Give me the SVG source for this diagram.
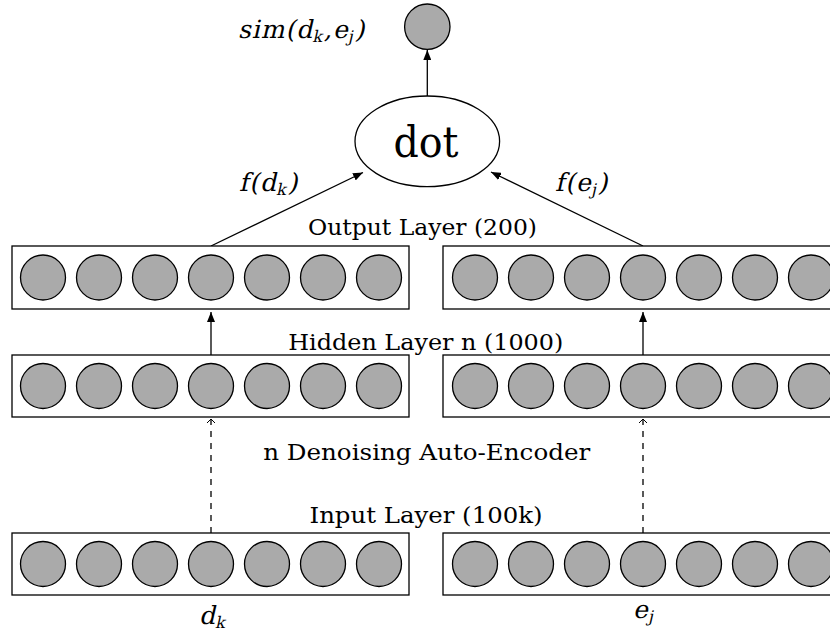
<svg xmlns="http://www.w3.org/2000/svg" width="830" height="633" viewBox="0 0 830 633">
  <style>
    .box { fill: #ffffff; stroke: #000000; stroke-width: 1.3; }
    .unit { fill: #aaaaaa; stroke: #000000; stroke-width: 1.3; }
    .lbl { font-family: "DejaVu Serif", "Liberation Serif", "Noto Serif", serif; font-size: 22px; fill: #000000; }
    .math { font-family: "DejaVu Serif", "Liberation Serif", "Noto Serif", serif; font-size: 25px; letter-spacing: 1px; fill: #000000; }
    .sub { font-size: 16px; }
    .edge { stroke: #000000; stroke-width: 1.3; fill: none; }
    .dash { stroke-dasharray: 6 6; }
  </style>
  <defs>
    <marker id="arr" viewBox="0 0 10 8" refX="10" refY="4" markerWidth="10" markerHeight="8" markerUnits="userSpaceOnUse" orient="auto">
      <path d="M0,0 L10,4 L0,8 Z" fill="#000000"/>
    </marker>
    <marker id="caret" viewBox="-6 -6 8 12" refX="0" refY="0" markerWidth="8" markerHeight="12" markerUnits="userSpaceOnUse" orient="auto">
      <path d="M-4,-4 L0,0 L-4,4" fill="none" stroke="#000000" stroke-width="1"/>
    </marker>
    <g id="row">
      <circle class="unit" cx="0" cy="0" r="22.5"/>
      <circle class="unit" cx="56" cy="0" r="22.5"/>
      <circle class="unit" cx="112" cy="0" r="22.5"/>
      <circle class="unit" cx="168" cy="0" r="22.5"/>
      <circle class="unit" cx="224" cy="0" r="22.5"/>
      <circle class="unit" cx="280" cy="0" r="22.5"/>
      <circle class="unit" cx="336" cy="0" r="22.5"/>
    </g>
  </defs>

  <g id="connectors">
    <line class="edge" x1="427.3" y1="96" x2="427.3" y2="50" marker-end="url(#arr)"/>
    <line class="edge" x1="211" y1="246" x2="363" y2="172.5" marker-end="url(#arr)"/>
    <line class="edge" x1="643" y1="246" x2="491" y2="172" marker-end="url(#arr)"/>
    <line class="edge" x1="211" y1="355" x2="211" y2="312" marker-end="url(#arr)"/>
    <line class="edge" x1="643" y1="355" x2="643" y2="312" marker-end="url(#arr)"/>
    <line class="edge dash" x1="211" y1="533" x2="211" y2="419" marker-end="url(#caret)"/>
    <line class="edge dash" x1="643" y1="533" x2="643" y2="419" marker-end="url(#caret)"/>
  </g>

  <g id="sim-node">
    <circle class="unit" cx="427.3" cy="26.7" r="22.7"/>
    <text class="math" transform="translate(238,38) skewX(-13)" x="0" y="0">sim<tspan transform="none">(</tspan>d<tspan class="sub" dy="4">k</tspan><tspan dy="-4">,</tspan>e<tspan class="sub" dy="4">j</tspan><tspan dy="-4">)</tspan></text>
  </g>

  <g id="dot-node">
    <ellipse cx="427.3" cy="141.3" rx="72.3" ry="45.3" fill="#ffffff" stroke="#000000" stroke-width="1.3"/>
    <text x="426" y="157" text-anchor="middle" font-family="'DejaVu Serif', 'Liberation Serif', serif" font-size="42" textLength="65" lengthAdjust="spacingAndGlyphs">dot</text>
  </g>

  <g id="edge-labels">
    <text class="math" transform="translate(239,191) skewX(-13)" x="0" y="0">f(d<tspan class="sub" dy="4">k</tspan><tspan dy="-4">)</tspan></text>
    <text class="math" transform="translate(555,191) skewX(-13)" x="0" y="0">f(e<tspan class="sub" dy="4">j</tspan><tspan dy="-4">)</tspan></text>
  </g>

  <g id="output-left">
    <rect class="box" x="12" y="246" width="397" height="63"/>
    <use href="#row" x="43" y="277.5"/>
  </g>
  <g id="output-right">
    <rect class="box" x="443" y="246" width="400" height="63"/>
    <use href="#row" x="475" y="277.5"/>
  </g>
  <text id="output-label" class="lbl" x="422.5" y="235" text-anchor="middle" textLength="229" lengthAdjust="spacingAndGlyphs">Output Layer (200)</text>

  <g id="hidden-left">
    <rect class="box" x="12" y="355" width="397" height="62"/>
    <use href="#row" x="43" y="386"/>
  </g>
  <g id="hidden-right">
    <rect class="box" x="443" y="355" width="400" height="62"/>
    <use href="#row" x="475" y="386"/>
  </g>
  <text id="hidden-label" class="lbl" x="425.8" y="350" text-anchor="middle" textLength="275" lengthAdjust="spacingAndGlyphs">Hidden Layer n (1000)</text>

  <text id="dae-label" class="lbl" x="426.7" y="460" text-anchor="middle" textLength="327" lengthAdjust="spacingAndGlyphs">n Denoising Auto-Encoder</text>

  <g id="input-left">
    <rect class="box" x="12" y="533" width="397" height="62"/>
    <use href="#row" x="43" y="564"/>
  </g>
  <g id="input-right">
    <rect class="box" x="443" y="533" width="400" height="62"/>
    <use href="#row" x="475" y="564"/>
  </g>
  <text id="input-label" class="lbl" x="426" y="523" text-anchor="middle" textLength="233" lengthAdjust="spacingAndGlyphs">Input Layer (100k)</text>

  <g id="input-labels">
    <text class="math" transform="translate(199,624) skewX(-13)" x="0" y="0">d<tspan class="sub" dy="4">k</tspan></text>
    <text class="math" transform="translate(633,618) skewX(-13)" x="0" y="0">e<tspan class="sub" dy="4">j</tspan></text>
  </g>
</svg>
